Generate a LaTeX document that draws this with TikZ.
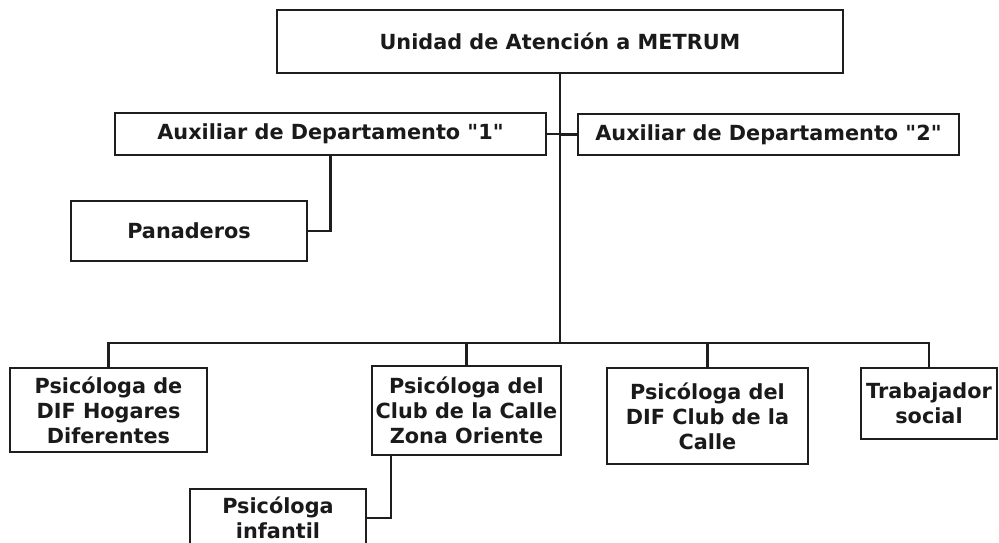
\documentclass[tikz,border=0pt]{standalone}
\usepackage{fontspec}
\newfontfamily\djv{DejaVu Sans}
\definecolor{linec}{HTML}{1E1E1E}
\definecolor{textc}{HTML}{1A1A1A}
\begin{document}
\begin{tikzpicture}[x=1pt,y=-1pt,
  box/.style={draw=linec, line width=2.4pt, fill=white, align=center,
    font=\djv\fontsize{20.8}{25}\selectfont\bfseries, text=textc, inner sep=0pt},
  conn/.style={draw=linec, line width=2.4pt}]
\useasboundingbox (0,0) rectangle (999,543);
\clip (0,0) rectangle (999,543);
\coordinate (busc) at (560,343);
% nodes
\node[box, minimum width=566pt, minimum height=63pt] (top) at (560,41.5) {Unidad de Atención a METRUM};
\node[box, minimum width=431pt, minimum height=42pt] (aux1) at (330.5,134) {Auxiliar de Departamento "1"};
\node[box, minimum width=381pt, minimum height=41pt] (aux2) at (768.5,134.5) {Auxiliar de Departamento "2"};
\node[box, minimum width=236pt, minimum height=60pt] (pan) at (189,231) {Panaderos};
\node[box, minimum width=197pt, minimum height=84pt] (b1) at (108.5,410) {Psicóloga de\\DIF Hogares\\Diferentes};
\node[box, minimum width=189pt, minimum height=89pt] (b2) at (466.5,410.5) {Psicóloga del\\Club de la Calle\\Zona Oriente};
\node[box, minimum width=201pt, minimum height=96pt] (b3) at (707.5,416) {Psicóloga del\\DIF Club de la\\Calle};
\node[box, minimum width=136pt, minimum height=71pt] (b4) at (929,403.5) {Trabajador\\social};
\node[box, minimum width=176pt, minimum height=58pt] (inf) at (278,518) {Psicóloga\\infantil};
% connectors
\draw[conn] (top.south) -- (busc);
\draw[conn] (aux1.east) -- (aux1.east -| top.south);
\draw[conn] (aux2.west) -- (aux2.west -| top.south);
\draw[conn] (aux1.south) |- (pan.east);
\draw[conn] (b1.north) -- (b1.north |- busc) -- (b4.north |- busc) -- (b4.north);
\draw[conn] (b2.north) -- (b2.north |- busc);
\draw[conn] (b3.north) -- (b3.north |- busc);
\draw[conn] ([xshift=-75.5pt]b2.south) |- (inf.east);
\end{tikzpicture}
\end{document}
